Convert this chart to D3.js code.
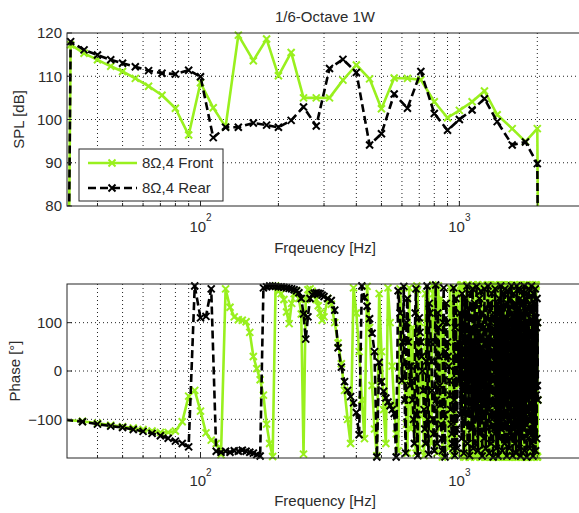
<!DOCTYPE html>
<html>
<head>
<meta charset="utf-8">
<script src="https://cdn.jsdelivr.net/npm/d3@7"></script>
<style>
body { margin: 0; background: #fff; }
text { font-family: "Liberation Sans", Arial, sans-serif; fill: #2b2b2b; }
</style>
</head>
<body>
<div id="chart"></div>
<script>
// 1/6-octave SPL, first and last points fall far below the axis
const splFreqs = [30.5, 31.5, 35.5, 40, 45, 50, 56, 63, 71, 80, 90, 100, 112, 125, 140, 160, 180, 200, 224, 250,
  280, 315, 355, 400, 450, 500, 560, 630, 710, 800, 900, 1000, 1120, 1250, 1400, 1600, 1800, 2000, 2040];
const splFront = [20, 117.3, 115.3, 113.8, 112.3, 111.1, 109.5, 107.7, 105.6, 102.6, 96.4, 108.5, 102.7, 98.3, 119.5,
  113.6, 118.6, 110.1, 115.5, 105.0, 105.0, 105.0, 109.1, 112.6, 109.4, 102.5, 109.6, 109.5, 109.2, 104.1, 100.4,
  102.1, 104.1, 106.6, 101.1, 97.9, 94.9, 97.9, 20];
const splRear = [20, 118.0, 116.1, 114.9, 113.8, 113.0, 112.2, 111.3, 110.7, 110.5, 111.4, 109.9, 95.8, 98.2, 98.2,
  99.2, 98.7, 98.2, 99.8, 102.9, 98.5, 111.8, 113.9, 110.9, 94.1, 96.7, 105.9, 102.6, 111.1, 101.4, 97.5,
  100.0, 102.2, 104.8, 99.5, 94.1, 94.8, 89.8, 20];

// phase: FFT bins, 5 Hz below 300 Hz, 10 Hz to 590 Hz, 5 Hz again to 2010 Hz
const phaseFreqs = d3.range(30, 300, 5).concat(d3.range(300, 600, 10), d3.range(600, 2011, 5));
const phaseFront = [
  -101, -104, -108, -112, -115, -118, -121, -124, -127, -127,   // 30-75
  -124, -105, -52, -40, -83, -128, -143, -150, -173, 170,       // 80-125
  132, 112, 106, 105, 102, 80, 30, 5, -18, -50,                 // 130-175
  -110, -150, -177, 176, 165, 160, 148, 122, 98, 140,           // 180-225
  160, 166, 150, 118, -172, 148, 168, 170, 165, 158,            // 230-275
  148, 135, 120, 105,                                           // 280-295
  112, 150, 138, 100, 58, 15, -40, -100, -150, 172,             // 300-390
  120, 40, -60, -140, 175, 90, -30, -120, -175, 160,            // 400-490
  40, -80, -150, 172, 100, 10, -70, -130, -165, 170,            // 500-590
  100, 60, 20, -20, -60, -110, -170, 60, 172, -30,              // 600-645
  -120, 20, 90, 0, -110, -150, -170, 176, 168, -90,             // 650-695
  -160, 100, 60, 10, -40, -90, -175, 30, 160, 40,               // 700-745
  -150, 120, 170, -20, -90, -120, -150, 100, 178, 160,          // 750-795
  120, 90, 50, -60, -170, 120, 176, -30, -120, 20,              // 800-845
  150, -40, -178, 100, 90, 50, 20, -20, -50, -80,               // 850-895
  -110, -140, -160, 30, 172, 140, 120, -60, -175, 100,          // 900-945
  170, -30, -100, -140, -170, 165, 130, 110, 80, 40,            // 950-995
  -30, 120, 176, 178, 175, 170, 178, -176, -178, -172,          // 1000-1045
  -176, -178, -170, 176, 178, 160, 176, 178, -178, -176,        // 1050-1095
  -175, -178, -170, -176, 176, 178, 172, 178, 176, -178,        // 1100-1145
  -176, -150, -178, -176, 176, 178, 178, 150, 176, -176,        // 1150-1195
  -178, -176, -170, -178, 176, 178, 175, 178, 168, -176,        // 1200-1245
  -178, -176, -165, -178, -176, 176, 178, 172, 178, -176,       // 1250-1295
  -178, -176, -172, -178, 176, 178, 120, 176, -178, -176,       // 1300-1345
  -170, -178, -176, 178, 176, 170, 178, 176, -178, -176,        // 1350-1395
  -178, -150, -176, -178, 176, 178, 174, 178, -176, -178,       // 1400-1445
  -176, -170, -178, 176, 178, 176, 170, 178, -176, -178,        // 1450-1495
  -172, -176, -178, -176, 176, 178, 176, 178, 172, -178,        // 1500-1545
  -176, -178, -170, -176, 178, 176, 150, 170, -176, -178,       // 1550-1595
  -176, -178, -172, 176, 178, 174, 178, 176, -178, -176,        // 1600-1645
  -178, -170, -176, -178, 176, 178, 176, 172, -176, -178,       // 1650-1695
  -176, -140, -174, 178, 176, 178, 170, 176, -178, -176,        // 1700-1745
  -170, -178, -176, 176, 178, 172, 178, 176, -178, -176,        // 1750-1795
  -178, -172, -176, 178, 176, 178, 174, -176, -178, -176,       // 1800-1845
  -170, -178, 176, 178, 176, 170, 178, -176, -178, -172,        // 1850-1895
  -176, -178, 176, 178, 172, 178, 176, -178, -176, -170,        // 1900-1945
  -178, -176, 176, 178, 176, 174, 178, -176, -178, -176,        // 1950-1995
  100, -178, -60                                                // 2000-2010
];
const phaseRear = [
  -101, -105, -110, -114, -117, -121, -125, -129, -134, -139,   // 30-75
  -145, -150, -157, 176, 110, 113, 170, -166, -168, -166,       // 80-125
  -168, -165, -166, -164, -166, -168, -170, -173, -176, 172,    // 130-175
  174, 176, 176, 175, 174, 174, 173, 172, 171, 170,             // 180-225
  168, 166, 162, 150, 118, 66, 112, 150, 158, 161,              // 230-275
  162, 161, 160, 157,                                           // 280-295
  154, 150, 146, 126, 48, 8, -22, -40, -53, -66,                // 300-390
  -86, -132, 176, 152, 134, 108, 78, 40, -178, 18,              // 400-490
  -22, -42, -56, -64, -72, -80, -88, -178, 166, 120,            // 500-590
  -20, 60, 175, -60, -170, 100, 150, 60, 10, -30,               // 600-645
  10, -20, -60, -100, -150, 120, 170, -90, -175, 40,            // 650-695
  110, 80, 60, 30, 0, -40, -80, -120, -150, 20,                 // 700-745
  176, -100, -172, 140, 120, 60, 20, -40, -100, -130,           // 750-795
  -165, 60, 178, -60, -150, 120, 90, 30, -30, -70,              // 800-845
  -110, -140, -165, 100, 172, -90, -178, 40, 140, 100,          // 850-895
  60, 30, 10, -20, -50, -80, -110, -130, -150, -160,            // 900-945
  172, -60, -175, 90, 150, -120, -160, 30, 60, -20,             // 950-995
  -20, 120, -90, 40, -140, 160, -60, 100, -170, 20,             // 1000-1045
  150, -110, 70, -30, 176, -150, 50, -80, 130, -175,            // 1050-1095
  160, -40, 90, -120, 10, 170, -160, 60, -70, 140,              // 1100-1145
  -150, 30, -100, 175, -20, 110, -165, 80, -50, 150,            // 1150-1195
  -130, 0, 165, -90, 50, -176, 120, -30, 90, -140,              // 1200-1245
  170, -60, 20, -160, 130, -10, 70, -120, 176, -80,             // 1250-1295
  40, -170, 140, -40, 100, -150, 10, 160, -100, 60,             // 1300-1345
  -178, 120, -20, 80, -130, 170, -60, 30, -160, 140,            // 1350-1395
  -90, 50, -176, 110, -10, 150, -140, 70, -50, 176,             // 1400-1445
  -120, 20, 130, -165, 90, -30, 160, -100, 40, -150,            // 1450-1495
  170, -70, 110, -20, 60, -176, 140, -110, 10, 165,             // 1500-1545
  -50, 90, -160, 30, 150, -90, 70, -140, 176, -30,              // 1550-1595
  120, -175, 50, -60, 160, -120, 20, 100, -150, 140,            // 1600-1645
  -10, -170, 80, 176, -80, 40, -130, 130, -40, 170,             // 1650-1695
  -160, 60, -100, 150, 10, -176, 110, -50, 90, -140,            // 1700-1745
  165, -20, 40, -120, 130, -70, 176, -165, 70, -30,             // 1750-1795
  150, -110, 20, 100, -178, 160, -60, 50, -140, 120,            // 1800-1845
  -10, 170, -90, 80, -160, 30, 140, -120, 60, -40,              // 1850-1895
  176, -150, 100, -70, 20, -176, 160, -100, 40, 130,            // 1900-1945
  -130, 70, -20, 170, -165, 110, -50, 90, -140, 150,            // 1950-1995
  -30, 100, -60                                                 // 2000-2010
];

const splTicks = [80, 90, 100, 110, 120];
const phaseTicks = [-100, 0, 100];
const decades = [100, 1000];
const minorFreqs = [40, 50, 60, 70, 80, 90, 200, 300, 400, 500, 600, 700, 800, 900, 2000, 3000];
const seriesNames = ["8\u03A9,4 Front", "8\u03A9,4 Rear"];
const colors = ["#99f01e", "#000000"];

const width = 579, height = 513;
const left = 67, right = 581;

const svg = d3.select("#chart")
  .append("svg")
  .attr("width", width)
  .attr("height", height);

const x = d3.scaleLog()
  .domain([30.5, 2950])
  .range([left, right]);

const marker = "M-3.5,-3.5L3.5,3.5M-3.5,3.5L3.5,-3.5";

function panel(opts) {
  const y = d3.scaleLinear().domain(opts.domain).range([opts.bottom, opts.top]);
  const g = svg.append("g");

  // grid
  const gridX = minorFreqs.concat(decades);
  g.selectAll(".gx")
    .data(gridX)
    .join("line")
    .attr("x1", d => x(d)).attr("x2", d => x(d))
    .attr("y1", opts.top).attr("y2", opts.bottom)
    .attr("stroke", "#222")
    .attr("stroke-width", 1)
    .attr("stroke-dasharray", "1,3");

  g.selectAll(".gy")
    .data(opts.gridY)
    .join("line")
    .attr("x1", left).attr("x2", right)
    .attr("y1", d => y(d)).attr("y2", d => y(d))
    .attr("stroke", "#222")
    .attr("stroke-width", 1)
    .attr("stroke-dasharray", "1,3");

  const clipId = "clip" + opts.top;
  svg.append("clipPath").attr("id", clipId)
    .append("rect")
    .attr("x", left).attr("y", opts.top)
    .attr("width", right - left).attr("height", opts.bottom - opts.top);

  const line = d3.line()
    .x(d => x(d[0]))
    .y(d => y(d[1]));

  opts.series.forEach((vals, i) => {
    const pts = opts.freqs.map((f, j) => [f, vals[j]]);
    g.append("path")
      .datum(pts)
      .attr("clip-path", `url(#${clipId})`)
      .attr("fill", "none")
      .attr("stroke", colors[i])
      .attr("stroke-width", 2.6)
      .attr("stroke-linejoin", "round")
      .attr("stroke-dasharray", i === 1 ? "8,4" : null)
      .attr("d", line);

    g.selectAll(".m" + i)
      .data(pts.filter(d => d[0] >= x.domain()[0] && d[1] >= opts.domain[0] && d[1] <= opts.domain[1]))
      .join("path")
      .attr("transform", d => `translate(${x(d[0])},${y(d[1])})`)
      .attr("d", marker)
      .attr("fill", "none")
      .attr("stroke", colors[i])
      .attr("stroke-width", 2);
  });

  // box
  g.append("rect")
    .attr("x", left).attr("y", opts.top)
    .attr("width", right - left).attr("height", opts.bottom - opts.top)
    .attr("fill", "none")
    .attr("stroke", "#262626")
    .attr("stroke-width", 1);

  // inward ticks
  g.selectAll(".tx")
    .data(decades)
    .join("line")
    .attr("x1", d => x(d)).attr("x2", d => x(d))
    .attr("y1", opts.bottom).attr("y2", opts.bottom - 5)
    .attr("stroke", "#262626");
  g.selectAll(".tmx")
    .data(minorFreqs)
    .join("line")
    .attr("x1", d => x(d)).attr("x2", d => x(d))
    .attr("y1", opts.bottom).attr("y2", opts.bottom - 3)
    .attr("stroke", "#262626");
  g.selectAll(".ty")
    .data(opts.ticks)
    .join("line")
    .attr("x1", left).attr("x2", left + 5)
    .attr("y1", d => y(d)).attr("y2", d => y(d))
    .attr("stroke", "#262626");

  // y tick labels
  const yAxis = d3.axisLeft(y)
    .tickValues(opts.ticks)
    .tickSize(0)
    .tickPadding(5);
  const ya = g.append("g")
    .attr("transform", `translate(${left},0)`)
    .call(yAxis);
  ya.select(".domain").remove();
  ya.selectAll("text")
    .attr("font-size", 15)
    .attr("font-family", null)
    .attr("fill", "#2b2b2b");

  // x tick labels 10^n
  const xl = g.selectAll(".xl")
    .data(decades)
    .join("text")
    .attr("x", d => x(d))
    .attr("y", opts.labelY)
    .attr("text-anchor", "middle")
    .attr("font-size", 15);
  xl.append("tspan").text("10");
  xl.append("tspan")
    .attr("dy", -opts.supShift)
    .attr("font-size", 10)
    .text(d => Math.round(Math.log10(d)));

  g.append("text")
    .attr("x", (left + right) / 2 + 1)
    .attr("y", opts.xTitleY)
    .attr("text-anchor", "middle")
    .attr("font-size", 15)
    .text(opts.xTitle);

  g.append("text")
    .attr("transform", `translate(${opts.yTitleX},${(opts.top + opts.bottom) / 2}) rotate(-90)`)
    .attr("text-anchor", "middle")
    .attr("font-size", 15)
    .text(opts.yTitle);

  return y;
}

panel({
  top: 33, bottom: 206, domain: [80, 120],
  ticks: splTicks, gridY: [90, 100, 110],
  freqs: splFreqs, series: [splFront, splRear],
  labelY: 232, supShift: 11,
  xTitle: "Frqeuency [Hz]", xTitleY: 253,
  yTitle: "SPL [dB]", yTitleX: 24
});

panel({
  top: 284, bottom: 458, domain: [-180, 180],
  ticks: phaseTicks, gridY: phaseTicks,
  freqs: phaseFreqs, series: [phaseFront, phaseRear],
  labelY: 486, supShift: 10,
  xTitle: "Frequency [Hz]", xTitleY: 506,
  yTitle: "Phase [\u00B0]", yTitleX: 20
});

svg.append("text")
  .attr("x", (left + right) / 2 + 1)
  .attr("y", 22)
  .attr("text-anchor", "middle")
  .attr("font-size", 15)
  .text("1/6-Octave 1W");

// legend
const legend = svg.append("g").attr("transform", "translate(79,149)");
legend.append("rect")
  .attr("width", 144).attr("height", 52)
  .attr("fill", "#fff")
  .attr("stroke", "#262626");

seriesNames.forEach((name, i) => {
  const ly = 14 + i * 25;
  legend.append("line")
    .attr("x1", 9).attr("x2", 58)
    .attr("y1", ly).attr("y2", ly)
    .attr("stroke", colors[i])
    .attr("stroke-width", 2.6)
    .attr("stroke-dasharray", i === 1 ? "8,4" : null);
  legend.append("path")
    .attr("transform", `translate(33,${ly})`)
    .attr("d", marker)
    .attr("fill", "none")
    .attr("stroke", colors[i])
    .attr("stroke-width", 2);
  legend.append("text")
    .attr("x", 63).attr("y", ly + 5)
    .attr("font-size", 15)
    .text(name);
});
</script>
</body>
</html>
